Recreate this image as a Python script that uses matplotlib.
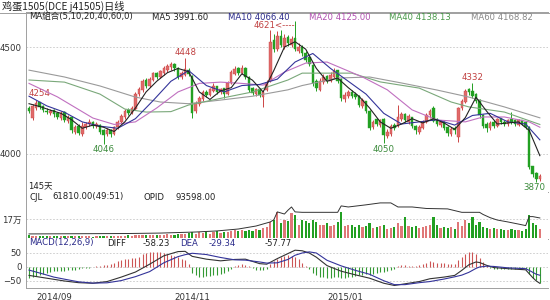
import numpy as np
import matplotlib
matplotlib.use('Agg')
import matplotlib.pyplot as plt

plt.rcParams['font.family'] = ['DejaVu Sans', 'Noto Sans CJK SC']

# daily candles, 145 trading days
opens = [4215, 4170, 4215, 4240, 4225, 4200, 4190, 4205, 4190, 4170,
         4195, 4155, 4170, 4105, 4130, 4095, 4125, 4140, 4150, 4130,
         4135, 4110, 4095, 4110, 4095, 4125, 4150, 4175, 4205, 4190,
         4210, 4280, 4300, 4345, 4320, 4345, 4375, 4360, 4380, 4395,
         4405, 4420, 4400, 4360, 4370, 4390, 4365, 4200, 4235, 4255,
         4290, 4275, 4295, 4315, 4290, 4305, 4280, 4330, 4375, 4400,
         4380, 4400, 4360, 4305, 4280, 4300, 4265, 4300, 4340, 4530,
         4490, 4550, 4500, 4545, 4510, 4540, 4480, 4500, 4470, 4450,
         4415, 4340, 4300, 4335, 4365, 4340, 4360, 4390, 4350, 4255,
         4270, 4290, 4280, 4270, 4225, 4245, 4200, 4125, 4160, 4135,
         4160, 4085, 4095, 4135, 4130, 4165, 4185, 4150, 4170, 4130,
         4105, 4120, 4150, 4180, 4215, 4160, 4135, 4150, 4125, 4095,
         4120, 4080, 4215, 4245, 4300, 4295, 4280, 4250, 4180, 4140,
         4120, 4150, 4130, 4165, 4150, 4140, 4160, 4155, 4135, 4155,
         4150, 4125, 3940, 3910, 3885]
closes = [4200, 4225, 4235, 4220, 4205, 4195, 4200, 4185, 4175, 4190,
          4160, 4170, 4110, 4125, 4100, 4130, 4140, 4150, 4130, 4140,
          4105, 4090, 4110, 4095, 4125, 4150, 4175, 4200, 4190, 4215,
          4280, 4300, 4340, 4320, 4350, 4375, 4360, 4385, 4400, 4410,
          4420, 4400, 4360, 4375, 4395, 4375, 4190, 4235, 4260, 4290,
          4275, 4300, 4315, 4290, 4300, 4280, 4330, 4380, 4395, 4380,
          4400, 4360, 4300, 4285, 4300, 4275, 4290, 4330, 4520, 4490,
          4550, 4510, 4540, 4520, 4535, 4490, 4500, 4470, 4440, 4420,
          4330, 4310, 4340, 4360, 4340, 4370, 4385, 4340, 4260, 4275,
          4290, 4270, 4265, 4230, 4250, 4200, 4120, 4150, 4140, 4155,
          4090, 4100, 4130, 4120, 4170, 4185, 4160, 4175, 4130, 4110,
          4125, 4150, 4180, 4200, 4155, 4140, 4150, 4120, 4100, 4115,
          4110, 4215, 4245, 4295, 4290, 4270, 4250, 4180, 4130, 4120,
          4145, 4130, 4160, 4150, 4140, 4155, 4150, 4140, 4155, 4145,
          4125, 3940, 3905, 3885, 3895]
highs = [4225, 4235, 4254, 4245, 4230, 4215, 4210, 4210, 4195, 4200,
         4200, 4180, 4175, 4135, 4140, 4150, 4150, 4165, 4155, 4150,
         4140, 4115, 4120, 4115, 4130, 4160, 4185, 4210, 4215, 4225,
         4290, 4315, 4350, 4355, 4360, 4385, 4385, 4395, 4410, 4420,
         4430, 4425, 4405, 4390, 4448, 4400, 4370, 4250, 4270, 4300,
         4300, 4310, 4330, 4320, 4310, 4310, 4340, 4395, 4410, 4405,
         4415, 4405, 4365, 4315, 4310, 4305, 4300, 4345, 4580, 4560,
         4575, 4580, 4560, 4555, 4550, 4621, 4520, 4510, 4480, 4460,
         4420, 4350, 4355, 4375, 4370, 4385, 4400, 4395, 4355, 4290,
         4300, 4300, 4290, 4275, 4260, 4250, 4205, 4160, 4170, 4165,
         4170, 4115, 4140, 4145, 4230, 4195, 4190, 4185, 4175, 4135,
         4135, 4160, 4190, 4210, 4225, 4170, 4160, 4155, 4130, 4125,
         4130, 4220, 4255, 4305, 4310, 4332, 4285, 4255, 4185, 4150,
         4155, 4160, 4170, 4170, 4160, 4165, 4195, 4165, 4165, 4160,
         4155, 4130, 3945, 3915, 3905]
lows = [4190, 4160, 4205, 4210, 4195, 4185, 4180, 4175, 4165, 4160,
        4150, 4145, 4100, 4095, 4090, 4085, 4115, 4130, 4120, 4120,
        4095, 4046, 4085, 4080, 4090, 4115, 4140, 4165, 4180, 4185,
        4205, 4270, 4290, 4310, 4315, 4340, 4350, 4355, 4370, 4385,
        4395, 4390, 4350, 4350, 4365, 4365, 4170, 4190, 4225, 4250,
        4265, 4270, 4290, 4280, 4280, 4260, 4275, 4325, 4370, 4370,
        4375, 4350, 4290, 4275, 4270, 4265, 4220, 4295, 4335, 4475,
        4480, 4500, 4490, 4505, 4500, 4480, 4470, 4460, 4430, 4410,
        4320, 4295, 4295, 4325, 4330, 4335, 4355, 4330, 4250, 4245,
        4260, 4260, 4255, 4220, 4215, 4190, 4110, 4115, 4130, 4125,
        4050, 4075, 4085, 4110, 4125, 4155, 4150, 4140, 4120, 4095,
        4095, 4115, 4145, 4170, 4150, 4130, 4125, 4110, 4085, 4085,
        4095, 4055, 4205, 4240, 4275, 4260, 4240, 4170, 4120, 4105,
        4110, 4120, 4125, 4140, 4130, 4130, 4140, 4130, 4130, 4135,
        4115, 3930, 3890, 3870, 3875]

# volume in 10k (万) lots
volume = [2.5, 2, 2, 1.5, 2, 1.5, 2, 2, 1.5, 2,
          1.5, 1.5, 2, 1.5, 1.5, 2, 1.5, 1.5, 1, 1.5,
          1.5, 2, 1.5, 1.5, 1.5, 2, 2, 2, 2.5, 2,
          3, 2.5, 3, 2.5, 3, 2.5, 3, 2.5, 3, 3.5,
          3, 3, 3.5, 4, 3.5, 4.5, 5.5, 4, 5, 4.5,
          5.5, 4, 5, 6, 4.5, 5, 5.5, 6, 7, 6,
          7.5, 6.5, 7, 6, 8, 7, 9, 10, 14, 16,
          23, 13, 16, 15, 22, 21, 12, 16, 15, 13,
          16, 14, 12, 12, 13, 11, 12, 14, 23, 11,
          12, 12, 10, 12, 10, 11, 13, 9, 10, 11,
          12, 8, 9, 10, 13, 11, 19, 11, 10, 11,
          9, 10, 11, 12, 19, 12, 9, 10, 9, 10,
          8, 14.5, 11, 16, 13, 19, 12, 14, 10, 9,
          8, 9, 8, 8, 7, 7, 8, 7, 7, 6,
          8, 20.8, 13, 12, 8]

# open interest (万), read at selected days
opi_day = [0, 28, 37, 47, 53, 59, 64, 68, 69, 70, 72, 73, 74, 75, 77, 87, 88,
           90, 95, 99, 102, 104, 108, 112, 118, 122, 127, 128, 130, 132, 135,
           138, 140, 141, 142, 144]
opi_val = [1.9, 2.1, 2.3, 2.8, 3.3, 4.2, 5.6, 7.5, 8.5, 12.2, 11.2, 13, 14.5,
           12.2, 12, 12, 15, 14.5, 15.5, 16.4, 16.4, 14.5, 14.5, 13.8, 13.6,
           12, 12, 11, 9.5, 8.4, 7.5, 6.5, 5.8, 10, 10, 9.36]

# moving averages
ma5_day = [0, 3, 6, 9, 12, 15, 18, 21, 24, 27, 30, 33, 36, 39, 42, 45, 48, 51,
           54, 57, 60, 63, 66, 69, 72, 75, 78, 81, 84, 87, 90, 93, 96, 99, 102,
           105, 108, 111, 114, 117, 120, 123, 126, 129, 132, 135, 138, 141, 144]
ma5 = [4235, 4222, 4205, 4190, 4160, 4120, 4135, 4125, 4105, 4150, 4215, 4290,
       4340, 4380, 4400, 4385, 4290, 4255, 4295, 4310, 4375, 4345, 4290, 4390,
       4500, 4525, 4490, 4400, 4340, 4355, 4310, 4270, 4215, 4150, 4120, 4140,
       4165, 4145, 4165, 4145, 4115, 4170, 4265, 4200, 4140, 4145, 4150, 4110,
       3992]
ma10_day = [0, 5, 10, 15, 20, 25, 30, 35, 40, 45, 50, 55, 60, 65, 70, 75, 80,
            85, 90, 95, 100, 105, 110, 115, 120, 125, 130, 135, 140, 144]
ma10 = [4270, 4225, 4195, 4150, 4130, 4120, 4165, 4250, 4340, 4390, 4320, 4290,
        4320, 4325, 4350, 4430, 4470, 4400, 4340, 4280, 4190, 4140, 4150, 4160,
        4135, 4180, 4190, 4150, 4140, 4066]
ma20_day = [0, 8, 18, 24, 30, 36, 42, 48, 54, 60, 66, 72, 78, 84, 94, 101, 108,
            115, 123, 128, 134, 141, 144]
ma20 = [4330, 4267, 4168, 4138, 4150, 4215, 4290, 4330, 4336, 4330, 4322, 4383,
        4425, 4430, 4360, 4300, 4206, 4159, 4150, 4173, 4173, 4150, 4125]
ma40_day = [0, 10, 20, 27, 33, 40, 45, 54, 63, 73, 77, 91, 99, 110, 119, 124,
            134, 144]
ma40 = [4346, 4336, 4280, 4210, 4196, 4198, 4229, 4260, 4290, 4346, 4378, 4378,
        4337, 4308, 4243, 4220, 4196, 4138]
ma60_day = [0, 10, 20, 30, 37, 45, 54, 63, 73, 77, 87, 96, 105, 115, 124, 134, 144]
ma60 = [4392, 4360, 4318, 4266, 4243, 4235, 4252, 4270, 4300, 4320, 4355, 4360,
        4332, 4299, 4266, 4220, 4169]

# MACD
macd_hist = [-38, -36, -33, -30, -26, -22, -18, -16, -15, -14,
             -13, -12, -11, -10, -6, -4, -3, -2, -1, 3,
             5, 7, 8, 9, 14, 20, 25, 28, 30, 32,
             33, 36, 45, 50, 53, 54, 53, 52, 50, 47,
             44, 40, 36, 30, 24, 12, -22, -30, -34, -35,
             -33, -32, -30, -27, -24, -20, -15, -6, 3, 8,
             10, 7, 2, -5, -10, -12, -12, -8, 10, 20,
             30, 36, 40, 42, 40, 36, 28, 16, 5, -8,
             -22, -30, -34, -36, -38, -38, -36, -36, -38, -38,
             -36, -34, -32, -30, -28, -26, -28, -26, -22, -18,
             -18, -14, -10, -6, 2, 6, 6, 5, 4, 4,
             8, 12, 16, 20, 18, 16, 16, 14, 12, 12,
             10, 24, 34, 46, 54, 54, 46, 32, 18, 6,
             -4, -8, -8, -8, -7, -6, -6, -6, -5, -5,
             -8, -24, -38, -48, -57.77]
macd_day = [0, 4, 7, 10, 14, 18, 22, 26, 30, 34, 38, 42, 44, 46, 50, 54, 58, 61,
            65, 67, 70, 73, 75, 77, 79, 81, 84, 88, 92, 96, 100, 103, 106, 110,
            113, 117, 120, 122, 124, 126, 127, 129, 131, 135, 140, 141, 142, 143,
            144]
diff = [-30, -38, -44, -50, -56, -58, -52, -36, -18, 10, 40, 55, 56, 38, 28, 22,
        27, 28, 12, 10, 30, 48, 60, 58, 50, 35, 5, -15, -28, -40, -58, -66, -60,
        -52, -42, -36, -30, -12, 8, 18, 16, 6, -2, -6, -10, -24, -38, -50, -58.23]
dea = [-11, -25, -36, -43.5, -53, -57.5, -56.5, -48.5, -34.5, -16.5, 15, 37, 44,
       49, 44.5, 34, 25.5, 24.5, 18, 14, 15, 27, 42, 50, 54, 50, 24, 4, -12, -26,
       -49, -63, -63, -56, -52, -43, -35, -29, -19, -5, 0, 3, 2, -3, -6, -12,
       -19, -26, -29.34]

days = np.arange(len(closes))
o = np.array(opens)
c = np.array(closes)
up = c >= o
red = '#e06a6a'
red_edge = '#cc4444'
green = '#22a022'

fig = plt.figure(figsize=(5.5, 3), dpi=100)
L, W = 26 / 550, 522 / 550
ax1 = fig.add_axes([L, 1 - 192 / 300, W, 180 / 300])
ax2 = fig.add_axes([L, 1 - 239 / 300, W, 47 / 300], sharex=ax1)
ax3 = fig.add_axes([L, 1 - 288 / 300, W, 49 / 300], sharex=ax1)

# --- price panel
cols = np.where(up, red, green)
ax1.vlines(days, lows, highs, colors=np.where(up, red_edge, green), lw=0.7, zorder=2)
ax1.bar(days, np.abs(c - o) + 1.5, bottom=np.minimum(c, o), width=0.72,
        color=cols, edgecolor=np.where(up, red_edge, green), lw=0.3, zorder=3)
ax1.plot(ma60_day, ma60, color='#9a9a9a', lw=0.8, zorder=4)
ax1.plot(ma40_day, ma40, color='#7aa87a', lw=0.8, zorder=4)
ax1.plot(ma20_day, ma20, color='#c070c0', lw=0.8, zorder=4)
ax1.plot(ma10_day, ma10, color='#34349a', lw=0.8, zorder=5)
ax1.plot(ma5_day, ma5, color='#222222', lw=0.8, zorder=5)
for lv in (4000, 4500):
    ax1.axhline(lv, color='#c8c8c8', lw=0.6, dashes=(2, 2), zorder=1)
ax1.set_ylim(3822, 4664)
ax1.set_xlim(-0.85, 146.3)

lab = dict(fontsize=6.2)
ax1.text(0, 4262, '4254', color='#c04040', ha='left', va='bottom', **lab)
ax1.text(44, 4452, '4448', color='#c04040', ha='center', va='bottom', **lab)
ax1.text(21, 4040, '4046', color='#3a8a3a', ha='center', va='top', **lab)
ax1.text(75, 4600, '4621<----', color='#c04040', ha='right', va='center', **lab)
ax1.text(100, 4044, '4050', color='#3a8a3a', ha='center', va='top', **lab)
ax1.text(125, 4338, '4332', color='#c04040', ha='center', va='bottom', **lab)
ax1.text(142.5, 3862, '3870', color='#3a8a3a', ha='center', va='top', **lab)

# --- volume panel
v_cols = np.where(up, '#e07878', '#22a022')
ax2.bar(days, volume, width=0.62, color=v_cols, zorder=3)
ax2.axhline(17, color='#c8c8c8', lw=0.6, dashes=(2, 2), zorder=1)
ax2.set_ylim(-0.9, 41.2)
ax2b = ax2.twinx()
ax2b.plot(opi_day, opi_val, color='#333333', lw=0.7)
ax2b.set_ylim(-0.47, 21.5)
ax2b.axis('off')

# --- MACD panel
h = np.array(macd_hist)
ax3.vlines(days, 0, h, colors=np.where(h >= 0, '#cc5555', '#339933'), lw=0.8)
ax3.plot(macd_day, diff, color='#333333', lw=0.8)
ax3.plot(macd_day, dea, color='#34349a', lw=0.8)
for lv in (-50, 0, 50):
    ax3.axhline(lv, color='#c8c8c8', lw=0.6, dashes=(2, 2), zorder=0)
ax3.set_ylim(-75, 100)

# axes cosmetics
for ax in (ax1, ax2, ax3):
    for s in ax.spines.values():
        s.set_color('#a0a0a0')
        s.set_linewidth(0.7)
    ax.spines['right'].set_visible(False)
    ax.tick_params(length=0, labelsize=6.2, labelcolor='#333333', pad=3)
ax2.spines['top'].set_visible(False)
ax3.spines['top'].set_visible(False)
ax1.set_yticks([4000, 4500])
ax2.set_yticks([17])
ax2.set_yticklabels(['17万'])
ax3.set_yticks([-50, 0, 50])
ax3.set_xticks([2, 41, 84])
ax3.set_xticklabels(['2014/09', '2014/11', '2015/01'], ha='left')
ax1.tick_params(labelbottom=False)
ax2.tick_params(labelbottom=False)

# header rows
def ftext(x, y, s, size=6.1, **kw):
    fig.text(x / 550, 1 - y / 300, s, va='center', ha='left', fontsize=size, **kw)

ftext(2, 6.5, '鸡蛋1505(DCE j41505)日线', size=7.3,
      family=['Noto Sans CJK SC'], color='#222222')
fig.add_artist(plt.Line2D([0, 1], [1 - 12.5 / 300, 1 - 12.5 / 300], color='#a0a0a0', lw=0.7))
ftext(29, 17, 'MA組合(5,10,20,40,60,0)', color='#222222')
ftext(152, 17, 'MA5 3991.60', color='#222222')
ftext(228, 17, 'MA10 4066.40', color='#2a2a8a')
ftext(309, 17, 'MA20 4125.00', color='#b050b0')
ftext(389, 17, 'MA40 4138.13', color='#4a9a4a')
ftext(471, 17, 'MA60 4168.82', color='#888888')
ftext(28, 186, '145天', color='#222222')
ftext(29, 197, 'CJL', color='#222222')
ftext(52, 197, '61810.00(49:51)', color='#222222')
ftext(143, 197, 'OPID', color='#222222')
ftext(175, 197, '93598.00', color='#222222')
ftext(29, 243, 'MACD(12,26,9)', color='#2a2a8a')
ftext(107, 243, 'DIFF', color='#222222')
ftext(143, 243, '-58.23', color='#222222')
ftext(180, 243, 'DEA', color='#2a2a8a')
ftext(209, 243, '-29.34', color='#2a2a8a')
ftext(265, 243, '-57.77', color='#222222')

fig.savefig('out.png', dpi=100)
